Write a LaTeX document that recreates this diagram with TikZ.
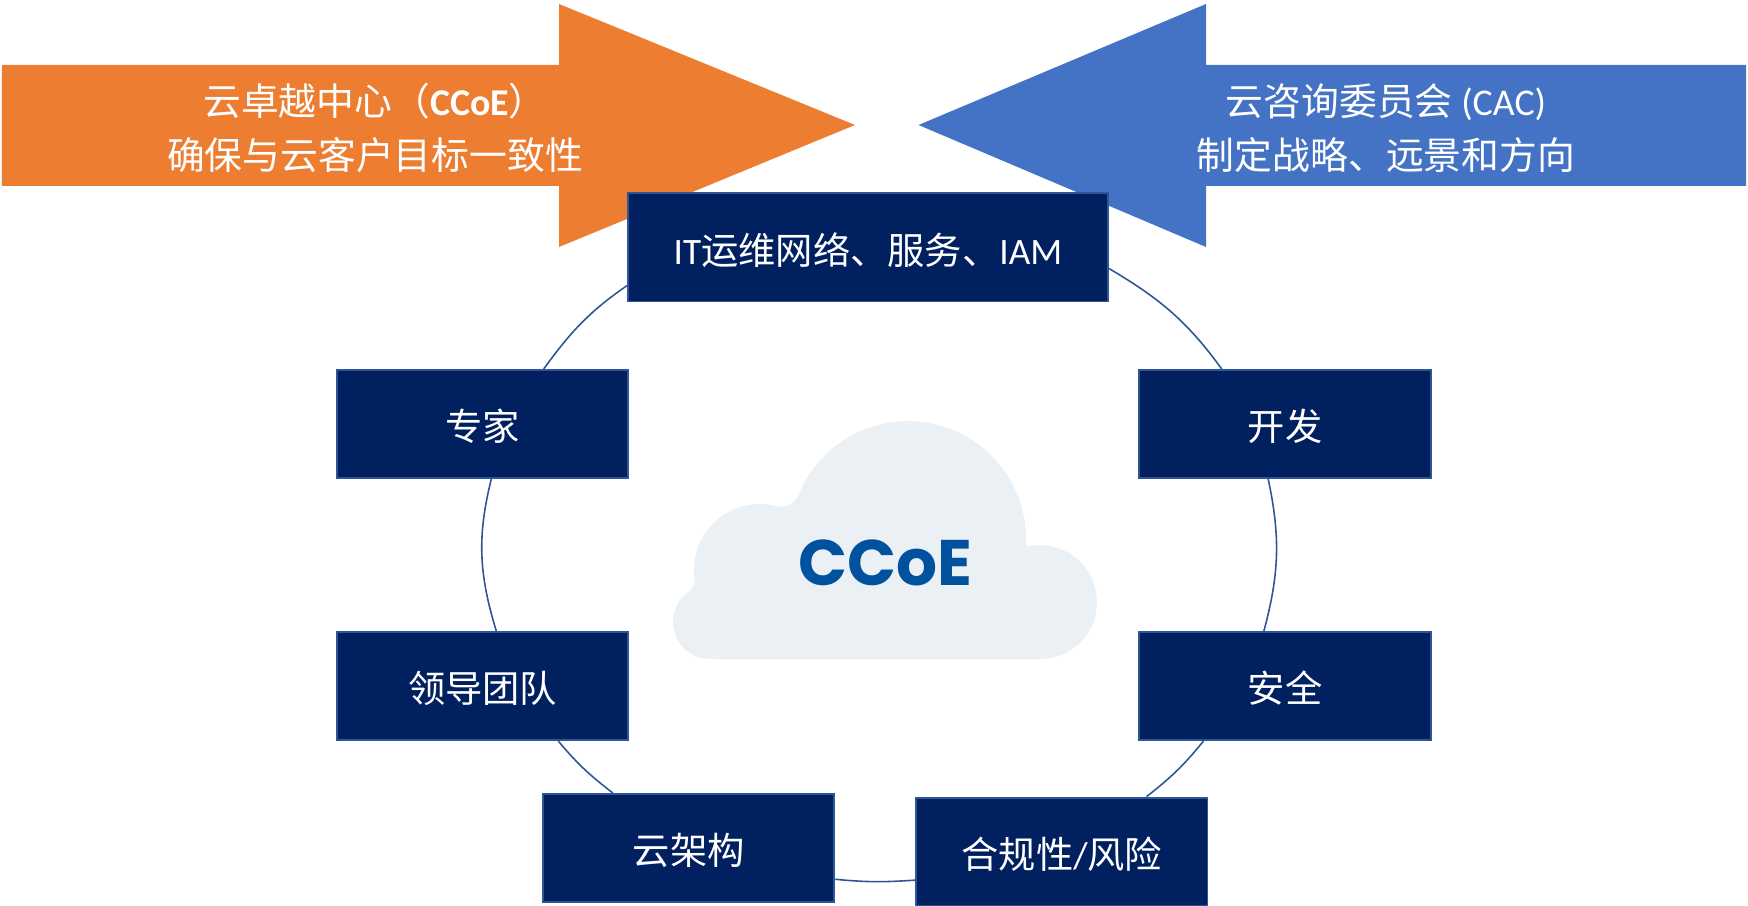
\documentclass[tikz,border=0pt]{standalone}
\usepackage{fontspec}
\setmainfont{Carlito}
\newfontfamily\cjk{Noto Sans CJK SC}
\newfontfamily\logofont{Poppins}
\usepackage{xcolor}
\usetikzlibrary{positioning}
\definecolor{ccoeorange}{HTML}{ED7D31}
\definecolor{cacblue}{HTML}{4472C4}
\definecolor{boxnavy}{HTML}{002060}
\definecolor{ringblue}{HTML}{2F5597}
\definecolor{cloudgrey}{HTML}{EBF0F5}
\definecolor{logoblue}{HTML}{00519E}

\begin{document}
\begin{tikzpicture}[x=0.01cm, y=0.01cm,
        box/.style={rectangle, draw=ringblue, line width=0.55pt, fill=boxnavy, text=white, inner sep=0pt, minimum width=2.91cm, minimum height=1.08cm, text height=10.6pt, text depth=1pt, font=\fontsize{10.6}{15.6}\selectfont},
        banner/.style={align=center, text=white, inner sep=0pt, font=\fontsize{10.75}{15.2}\selectfont},
        ring/.style={draw=ringblue, line width=0.45pt}]
        \useasboundingbox (0,0) rectangle (1748,906);

        % arrows on top
        \fill[ccoeorange] (2,841) -- (559,841) -- (559,902) -- (855,781) -- (559,659) -- (559,720) -- (2,720) -- cycle;
        \fill[cacblue] (1746,841) -- (1206,841) -- (1206,902) -- (918.5,781) -- (1206,659) -- (1206,720) -- (1746,720) -- cycle;
        \node (ccoelabel) [banner] at (375,778) {{\cjk 云卓越中心（}\textbf{CCoE}{\cjk ）}\\{\cjk 确保与云客户目标一致性}};
        \node (caclabel) [banner] at (1386,778) {{\cjk 云咨询委员会} (CAC)\\{\cjk 制定战略、远景和方向}};

        % cloud in the middle
        \fill[cloudgrey] (710,247) arc[start angle=270, end angle=125, radius=37]
            .. controls (696,319.5) and (695.5,326) .. (694,332.5)
            arc[start angle=183, end angle=76, radius=66]
            .. controls (786,397.5) and (795,402) .. (799.4,413)
            arc[start angle=157, end angle=2, radius=118]
            .. controls (1026,363) and (1024,359) .. (1030.1,360)
            arc[start angle=100, end angle=-90, radius=57] -- cycle;
        \node (logo) [inner sep=0pt, text=logoblue, font=\logofont\bfseries\fontsize{18.3}{20}\selectfont] at (885,343) {CCoE};

        % teams
        \node (itops) [box, minimum width=4.8cm] at (868,658.5) {IT{\cjk 运维网络、服务、}IAM};
        \node (dev) [box] at (1285,482) {\cjk 开发};
        \node (sec) [box, below=1.52cm of dev] {\cjk 安全};
        \node (lead) [box, left=5.09cm of sec] {\cjk 领导团队};
        \node (expert) [box, above=1.52cm of lead] {\cjk 专家};
        \node (arch) [box, below=0.52cm of lead, xshift=2.06cm] {\cjk 云架构};
        \node (comp) [box, right=0.8cm of arch, yshift=-0.035cm] {{\cjk 合规性}/{\cjk 风险}};

        % ring between the teams
        \draw[ring] (itops.-5.6) to[out=-30.6, in=126] (dev.139.5);
        \draw[ring] (dev.253.5) to[out=-78, in=75] (sec.111.1);
        \draw[ring] (sec.214.4) to[out=-129, in=38] (comp.33.4);
        \draw[ring] (comp.191.5) to[out=184, in=-5.7] (arch.348);
        \draw[ring] (arch.144.4) to[out=142.6, in=310] (lead.-36.4);
        \draw[ring] (lead.76.1) to[out=107, in=256] (expert.-81.6);
        \draw[ring] (expert.42.2) to[out=54, in=214.7] (itops.189.1);
    \end{tikzpicture}
\end{document}
